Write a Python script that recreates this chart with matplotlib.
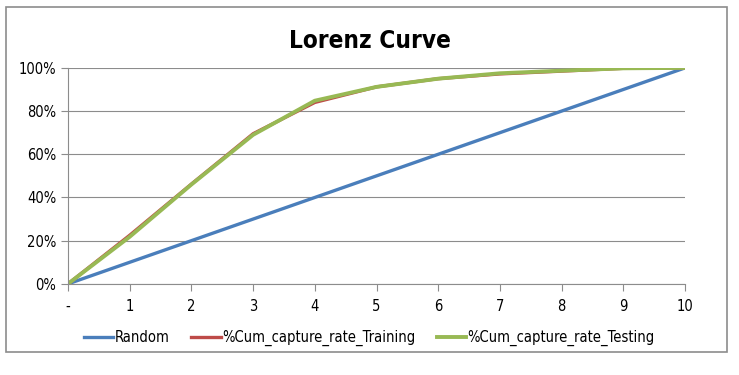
import matplotlib
matplotlib.use('Agg')
import matplotlib.pyplot as plt
from matplotlib.patches import Rectangle

plt.rcParams['font.family'] = ['DejaVu Sans']
plt.rcParams['font.stretch'] = 'condensed'

deciles = [0, 1, 2, 3, 4, 5, 6, 7, 8, 9, 10]
tick_labels = ['-', '1', '2', '3', '4', '5', '6', '7', '8', '9', '10']
random_pct = [0.0, 0.1, 0.2, 0.3, 0.4, 0.5, 0.6, 0.7, 0.8, 0.9, 1.0]
training_pct = [0.0, 0.225, 0.462, 0.695, 0.84, 0.912, 0.95, 0.972, 0.985, 0.998, 1.0]
testing_pct = [0.0, 0.218, 0.46, 0.69, 0.848, 0.912, 0.95, 0.975, 0.987, 0.998, 1.0]

fig = plt.figure(figsize=(7.39, 3.75), dpi=100)
ax = fig.add_axes([0.092, 0.243, 0.835, 0.576])

ax.plot(deciles, random_pct, color='#4A7EBB', lw=2.4, label='Random')
ax.plot(deciles, training_pct, color='#BE4B48', lw=2.4, label='%Cum_capture_rate_Training')
ax.plot(deciles, testing_pct, color='#98B954', lw=2.8, label='%Cum_capture_rate_Testing')

ax.set_xlim(0, 10)
ax.set_ylim(0, 1)
ax.set_xticks(deciles)
ax.set_xticklabels(tick_labels, fontsize=10.5)
ax.set_yticks([0, 0.2, 0.4, 0.6, 0.8, 1.0])
ax.set_yticklabels(['0%', '20%', '40%', '60%', '80%', '100%'], fontsize=10.5)
ax.grid(axis='y', color='#8c8c8c', lw=0.8)
ax.set_axisbelow(True)
for s in ['top', 'right']:
    ax.spines[s].set_visible(False)
ax.spines['left'].set_color('#8c8c8c')
ax.spines['bottom'].set_color('#8c8c8c')
ax.tick_params(axis='both', colors='#8c8c8c', labelcolor='black', length=5, width=0.8)
ax.tick_params(axis='x', pad=6)

fig.text(0.5, 0.89, 'Lorenz Curve', ha='center', va='center', fontsize=17.5, fontweight='bold')

fig.legend(loc='center', bbox_to_anchor=(0.5, 0.098), ncol=3, frameon=False,
           fontsize=10.5, handlelength=2.0, handletextpad=0.1, columnspacing=1.5)

fig.patches.append(Rectangle((0.008, 0.062), 0.976, 0.92, transform=fig.transFigure,
                             fill=False, edgecolor='#8c8c8c', lw=1.2))

fig.savefig('out.png', dpi=100)
